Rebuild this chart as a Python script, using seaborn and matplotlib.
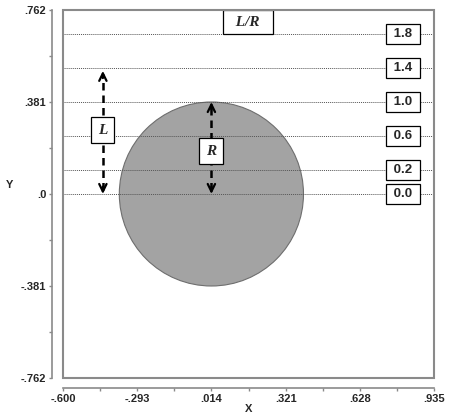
import matplotlib
matplotlib.use("Agg")
import matplotlib.pyplot as plt
from matplotlib.patches import Circle, Rectangle
import seaborn as sns

# data
circle_x = 0.014
circle_y = 0.0
radius = 0.381
ratio_labels = ['0.0', '0.2', '0.6', '1.0', '1.4', '1.8']
ratio_y = [0.0, 0.0996, 0.2403, 0.381, 0.5217, 0.6624]
x_ticks = [-0.600, -0.293, 0.014, 0.321, 0.628, 0.935]
x_ticklabels = ['-.600', '-.293', '.014', '.321', '.628', '.935']
y_ticks = [-0.762, -0.381, 0.0, 0.381, 0.762]
y_ticklabels = ['-.762', '-.381', '.0', '.381', '.762']
L_arrow_x = -0.435
L_arrow_top = 0.51
L_label_y = 0.265
R_label_y = 0.178
label_box_x = 0.806
title_xy = (0.165, 0.712)

sns.set_theme(style='white')
plt.rcParams['font.family'] = ['Liberation Sans', 'DejaVu Sans']

fig = plt.figure(figsize=(4.56, 4.18), dpi=100)
ax = fig.add_axes([63 / 456, 1 - 378 / 418, 371 / 456, 368 / 418])
ax.set_xlim(x_ticks[0], x_ticks[-1])
ax.set_ylim(y_ticks[0], y_ticks[-1])

# circle
ax.add_patch(Circle((circle_x, circle_y), radius, facecolor='#a3a3a3',
                    edgecolor='#6e6e6e', lw=0.8, zorder=1))

# dotted L/R lines with labels
for lab, yv in zip(ratio_labels, ratio_y):
    ax.axhline(yv, color='#555555', lw=0.7, ls=(0, (1, 1)), zorder=2)
    ax.text(label_box_x, yv, f' {lab} ', ha='center', va='center', fontsize=9.5,
            fontweight='bold', zorder=4,
            bbox=dict(boxstyle='square,pad=0.3', fc='white', ec='black', lw=0.9))

ax.text(title_xy[0], title_xy[1], '  L/R  ', ha='center', va='center', fontsize=11,
        fontweight='bold', fontstyle='italic', family='Liberation Serif', zorder=4,
        bbox=dict(boxstyle='square,pad=0.36', fc='white', ec='black', lw=0.9))

# dashed arrows
def dashed_arrow(x, y0, y1):
    ax.plot([x, x], [y0 + 0.015, y1 - 0.015], color='black', lw=1.8,
            ls=(0, (3, 2)), zorder=3)
    head = dict(arrowstyle='->,head_length=0.45,head_width=0.22', lw=1.6,
                color='black', shrinkA=0, shrinkB=0)
    ax.annotate('', xy=(x, y1), xytext=(x, y1 - 0.03), arrowprops=head, zorder=3)
    ax.annotate('', xy=(x, y0), xytext=(x, y0 + 0.03), arrowprops=head, zorder=3)

dashed_arrow(L_arrow_x, circle_y, L_arrow_top)
dashed_arrow(circle_x, circle_y, circle_y + radius)

for txt, xv, yv in [('L', L_arrow_x, L_label_y), ('R', circle_x, R_label_y)]:
    ax.text(xv, yv, txt, ha='center', va='center', fontsize=11, fontweight='bold',
            fontstyle='italic', family='Liberation Serif', zorder=4,
            bbox=dict(boxstyle='square,pad=0.45', fc='white', ec='black', lw=0.9))

# frame box plus offset axes
ax.add_patch(Rectangle((0, 0), 1, 1, transform=ax.transAxes, fill=False,
                       ec='#8a8a8a', lw=1.5, clip_on=False, zorder=5))
for s in ['top', 'right']:
    ax.spines[s].set_visible(False)
ax.spines['left'].set_position(('outward', 8))
ax.spines['bottom'].set_position(('outward', 7.5))
for s in ['left', 'bottom']:
    ax.spines[s].set_color('#8a8a8a')
    ax.spines[s].set_linewidth(1.2)

ax.set_xticks(x_ticks)
ax.set_xticklabels(x_ticklabels)
ax.set_yticks(y_ticks)
ax.set_yticklabels(y_ticklabels)
ax.set_xticks([(a + b) / 2 for a, b in zip(x_ticks[:-1], x_ticks[1:])], minor=True)
ax.set_yticks([(a + b) / 2 for a, b in zip(y_ticks[:-1], y_ticks[1:])], minor=True)
ax.tick_params(which='both', direction='out', length=2.5, width=1, color='#8a8a8a',
               left=True, bottom=True, labelsize=8, pad=1.5)
for t in ax.get_xticklabels() + ax.get_yticklabels():
    t.set_fontweight('bold')

ax.set_xlabel('X', fontsize=8, fontweight='bold', labelpad=0)
ax.set_ylabel('Y', fontsize=8, fontweight='bold', rotation=0)
ax.yaxis.set_label_coords(-0.145, 0.51)
ax.grid(False)

fig.savefig('out.png', dpi=100)
